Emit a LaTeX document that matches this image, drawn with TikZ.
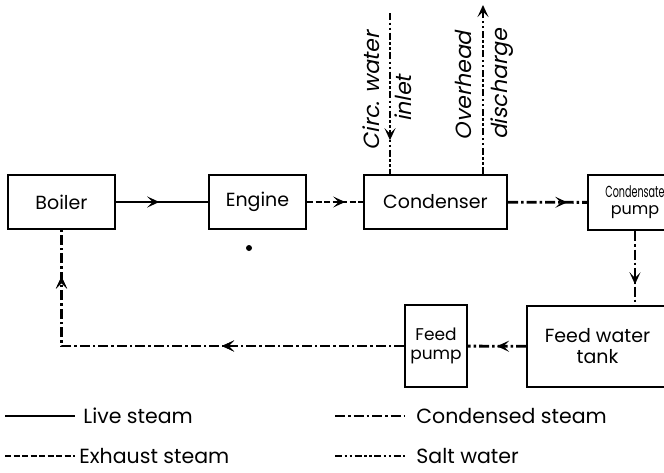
\documentclass[tikz,border=0pt]{standalone}
\usepackage{fontspec}
\usepackage{graphicx}
\setmainfont{Poppins}
\newfontfamily\slantfont[FakeSlant=0.2]{Poppins}
\usetikzlibrary{arrows.meta,decorations.markings}

\begin{document}
\begin{tikzpicture}[x=1pt,y=-1pt,font=\fontsize{19}{21}\selectfont,
  >={Stealth[length=12pt,width=11pt,inset=5.5pt]},
  box/.style={draw,line width=2pt,inner sep=0pt,align=center},
  live/.style={line width=2.8pt},
  exhaust/.style={line width=2.8pt,dash pattern=on 6pt off 2.5pt},
  condensed/.style={line width=2.8pt,dash pattern=on 10pt off 3pt on 2.5pt off 3pt},
  salt/.style={line width=2.8pt,dash pattern=on 7pt off 2.5pt on 2.5pt off 2.5pt on 2.5pt off 2.5pt},
  midarrow/.style={postaction={decorate},
    decoration={markings,mark=at position #1 with {\arrow{>}}}},
  flowlabel/.style={font=\slantfont\fontsize{22}{24}\selectfont,rotate=90,anchor=east,inner sep=0pt},
  keylabel/.style={anchor=west,inner sep=0pt,font=\fontsize{20.5}{22}\selectfont}]
  \clip (0,0) rectangle (664,472);

  \node [box,minimum width=107pt,minimum height=54pt] (boiler) at (61.5,202) {Boiler};
  \node [box,minimum width=97pt,minimum height=54pt] (engine) at (257.5,202) {Engine};
  \node [box,minimum width=143pt,minimum height=54pt] (condenser) at (435.5,202) {Condenser};
  \node [box,minimum width=94pt,minimum height=55pt,font=\fontsize{16}{17}\selectfont]
    (condpump) at (635,202.5) {\scalebox{0.6}[1]{Condensate}\\pump};
  \node [box,minimum width=141pt,minimum height=81pt] (tank) at (597.5,346.5) {Feed water\\tank};
  \node [box,minimum width=62pt,minimum height=82pt,font=\fontsize{17}{19}\selectfont]
    (feedpump) at (436,346) {Feed\\pump};

  % steam and water lines
  \draw [live,midarrow=0.47] (boiler) -- (engine);
  \draw [exhaust,midarrow=0.68] (engine) -- (condenser);
  \draw [condensed,midarrow=0.75] (condenser) -- (condpump);
  \draw [condensed,midarrow=0.72] (condpump.south) -- (condpump.south |- tank.north);
  \draw [condensed,midarrow=0.5] (tank) -- (feedpump);
  \draw [condensed,midarrow=182pt,midarrow=412pt] (feedpump.west) -| (boiler.south);

  % circulating water
  \coordinate (inlet) at (390,13);
  \coordinate (discharge) at (483,5);
  \draw [salt,midarrow=0.79] (inlet) -- (inlet |- condenser.north);
  \draw [salt,->] (discharge |- condenser.north) -- (discharge);
  \node [flowlabel] (circ) at (371,31) {Circ. water};
  \node [flowlabel] (inletlabel) at (403,75) {inlet};
  \node [flowlabel] (overhead) at (463,31) {Overhead};
  \node [flowlabel] (dischargelabel) at (502,29) {discharge};

  \fill (249,248) circle (3pt);

  % key
  \draw [live] (5,416) -- ++(70,0) node [keylabel,xshift=7pt] (livekey) {Live steam};
  \draw [exhaust] (5,456) -- ++(70,0) node [keylabel,xshift=3pt] (exhaustkey) {Exhaust steam};
  \draw [condensed] (335,416) -- ++(70,0) node [keylabel,xshift=10pt] (condkey) {Condensed steam};
  \draw [salt] (335,456) -- ++(70,0) node [keylabel,xshift=10pt] (saltkey) {Salt water};

\end{tikzpicture}
\end{document}
